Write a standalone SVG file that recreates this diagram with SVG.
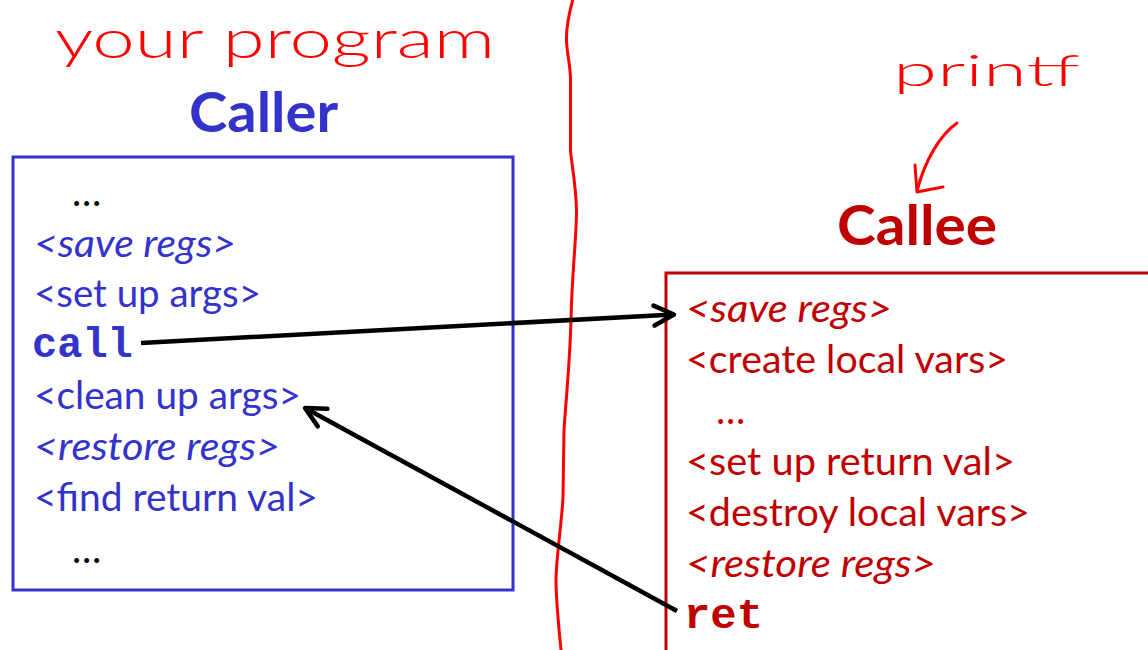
<svg xmlns="http://www.w3.org/2000/svg" width="1148" height="650" viewBox="0 0 1148 650">
<style>
.t{font-family:Lato,"Liberation Sans",sans-serif;font-size:39px}
.b{fill:#3333cc}
.r{fill:#c00000}
.k{fill:#000}
.i{font-style:italic}
.m{font-family:"Liberation Mono","Courier New",monospace;font-weight:bold;font-size:42px}
.title{font-family:Lato,"Liberation Sans",sans-serif;font-weight:bold;font-size:56px}
.hand{font-family:Lato,"Liberation Sans",sans-serif;font-weight:300;fill:#ff0000}
.ink{fill:none;stroke:#ff0000;stroke-width:3;stroke-linecap:round;stroke-linejoin:round}
.conn{fill:none;stroke:#000;stroke-width:4.5;stroke-linecap:butt}
</style>
<defs>
<marker id="ah" markerUnits="userSpaceOnUse" markerWidth="40" markerHeight="40" refX="0" refY="0" viewBox="-30 -20 40 40" orient="auto" overflow="visible">
<path d="M-20,-10 L0,0 L-20,10" fill="none" stroke="#000" stroke-width="4.5" stroke-linejoin="round" stroke-linecap="round"/>
</marker>
</defs>
<rect width="1148" height="650" fill="#fff"/>

<g id="annotations">
<text class="hand" x="55" y="58" font-size="54" textLength="440" lengthAdjust="spacingAndGlyphs">your program</text>
<text class="hand" x="893" y="86" font-size="44" textLength="187" lengthAdjust="spacingAndGlyphs">printf</text>
<path class="ink" d="M957,123 C940,135 925,160 917,191 M915,165 L917,192 L943,187"/>
<path class="ink" d="M572.7,0 C570,10 566,25 566.5,40 C567,55 570.5,65 570.5,80 L570.5,150 C571,160 576,185 576.5,210 C576.5,240 572,270 571,320 C570,360 566,400 564,430 L563,497 C562,520 556,560 556,580 C556,600 559,630 561,650"/>
</g>

<g id="caller">
<text class="title b" x="189" y="132" textLength="149" lengthAdjust="spacingAndGlyphs">Caller</text>
<rect x="13" y="157" width="500" height="433" fill="none" stroke="#3333cc" stroke-width="3"/>
<text class="t k" x="72" y="206">…</text>
<text class="t b i" x="34" y="257" textLength="202" lengthAdjust="spacingAndGlyphs">&lt;save regs&gt;</text>
<text class="t b" x="34" y="307" textLength="227" lengthAdjust="spacingAndGlyphs">&lt;set up args&gt;</text>
<text class="m b" x="32" y="357">call</text>
<text class="t b" x="34" y="409" textLength="267" lengthAdjust="spacingAndGlyphs">&lt;clean up args&gt;</text>
<text class="t b i" x="34" y="460" textLength="246" lengthAdjust="spacingAndGlyphs">&lt;restore regs&gt;</text>
<text class="t b" x="34" y="511" textLength="284" lengthAdjust="spacingAndGlyphs">&lt;find return val&gt;</text>
<text class="t k" x="72" y="563">…</text>
</g>

<g id="callee">
<text class="title r" x="837" y="245" textLength="160" lengthAdjust="spacingAndGlyphs">Callee</text>
<rect x="666" y="273" width="500" height="400" fill="none" stroke="#c00000" stroke-width="3"/>
<text class="t r i" x="686" y="322" textLength="206" lengthAdjust="spacingAndGlyphs">&lt;save regs&gt;</text>
<text class="t r" x="686" y="373" textLength="322" lengthAdjust="spacingAndGlyphs">&lt;create local vars&gt;</text>
<text class="t r" x="716" y="424">…</text>
<text class="t r" x="686" y="475" textLength="329" lengthAdjust="spacingAndGlyphs">&lt;set up return val&gt;</text>
<text class="t r" x="686" y="526" textLength="344" lengthAdjust="spacingAndGlyphs">&lt;destroy local vars&gt;</text>
<text class="t r i" x="686" y="577" textLength="250" lengthAdjust="spacingAndGlyphs">&lt;restore regs&gt;</text>
<text class="m r" x="684" y="628" textLength="79" lengthAdjust="spacingAndGlyphs">ret</text>
</g>

<g id="connectors">
<path class="conn" d="M141,343 L674,314.5" marker-end="url(#ah)"/>
<path class="conn" d="M677,611 L305,408" marker-end="url(#ah)"/>
</g>
</svg>
